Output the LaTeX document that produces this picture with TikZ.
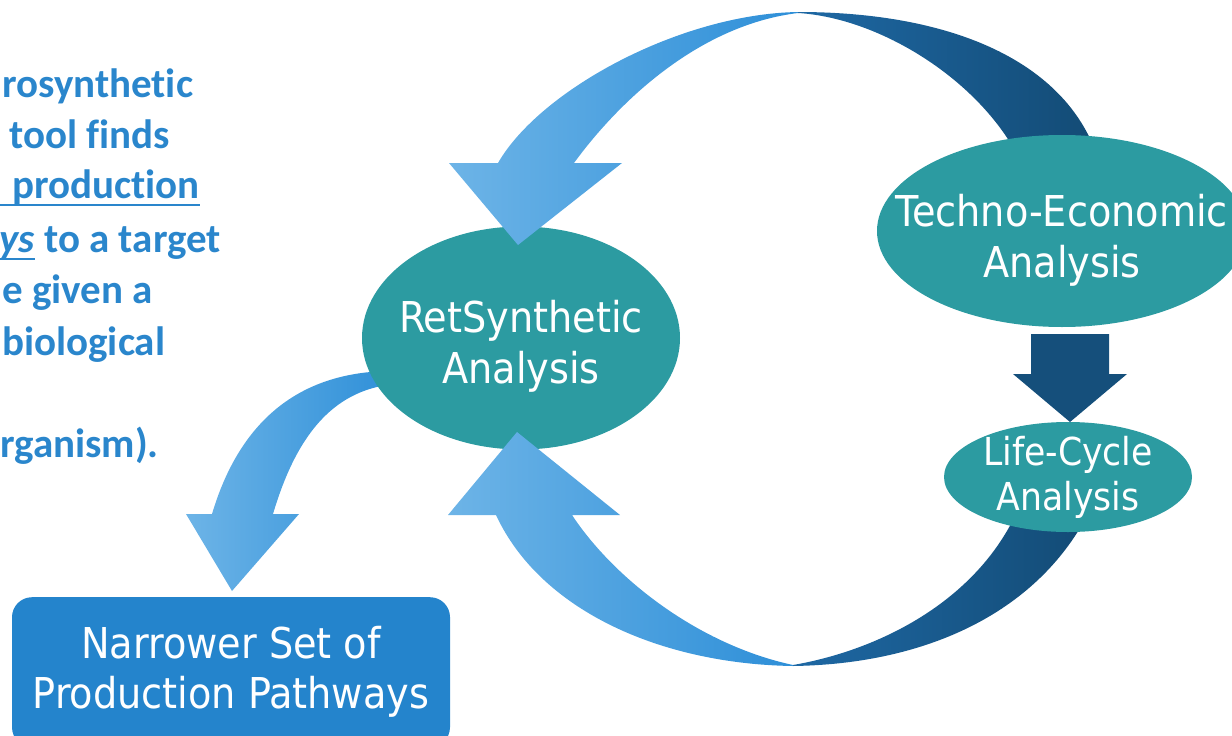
\documentclass[tikz,border=0pt]{standalone}
\usepackage{fontspec}
\usetikzlibrary{shapes.geometric}

\newfontfamily\stagefont{DejaVu Sans Condensed}
\newfontfamily\notefont[Ligatures=NoCommon]{Carlito}

\definecolor{stageteal}{HTML}{2C9BA1}
\definecolor{noteblue}{HTML}{2A86CC}
\definecolor{boxblue}{HTML}{2484CC}
\definecolor{lightarc}{HTML}{6DB4E7}
\definecolor{midarc}{HTML}{2E8FD8}
\definecolor{darkarcA}{HTML}{1E68A4}
\definecolor{darkarcB}{HTML}{134B75}
\definecolor{downblue}{HTML}{154F7B}

\tikzset{
  stage/.style={ellipse, fill=stageteal, inner sep=0pt},
  stagetext/.style={text=white, inner sep=0pt, align=center,
    font=\stagefont\fontsize{42.5}{51}\selectfont},
  result/.style={rectangle, rounded corners=20pt, fill=boxblue, text=white, align=center,
    inner sep=0pt, font=\stagefont\fontsize{42.5}{50}\selectfont},
  note/.style={text=noteblue, inner sep=0pt, anchor=base west,
    font=\notefont\bfseries\fontsize{41}{51}\selectfont},
  underl/.style={draw=noteblue, line width=2.2pt},
  lightarrow/.style={left color=lightarc, right color=midarc},
  darkarrow/.style={left color=darkarcA, right color=darkarcB},
}

\begin{document}
\begin{tikzpicture}[x=1pt, y=-1pt]
  \useasboundingbox (0,0) rectangle (1232,736);
  \clip (0,0) rectangle (1232,736);

  % Side note (runs off the left edge)
  \node[note] (l1) at (2,97) {rosynthetic};
  \node[note] (l2) at (9,148) {tool finds};
  \node[note] (l3) at (12,198) {production};
  \draw[underl] (0,205) -- ([yshift=-7pt]l3.base east);
  \node[note] (l4) at (-1,252) {\itshape ys};
  \node[note] (l4b) at (l4.base east) {\ to a target};
  \draw[underl] (0,259) -- ([yshift=-7pt]l4.base east);
  \node[note] (l5) at (2,303) {e given a};
  \node[note] (l6) at (2,355) {biological};
  \node[note] (l7) at (0,457) {rganism).};

  % Arrow from RetSynthetic down to the result box
  \shade[lightarrow] (212,514) .. controls (240,420) and (300,372) .. (390,371)
    -- (395,384) .. controls (330,390) and (295,440) .. (273,514)
    -- (299,514) -- (232,591) -- (186,514) -- cycle;

  % Result box
  \node[result, minimum width=438, minimum height=150, anchor=north] (narrow) at (231,597)
    {Narrower Set of\\Production Pathways};

  % Retrosynthesis stage
  \node[stage, minimum width=318, minimum height=223] (ret) at (521,338) {};
  \node[stagetext] (retlabel) at ([yshift=-8pt]ret.center) {RetSynthetic\\Analysis};

  % Upper loop arrow: TEA back to RetSynthetic
  \shade[darkarrow] (798,12) .. controls (950,12) and (1060,60) .. (1095,150)
    -- (1020,160) .. controls (980,80) and (880,18) .. (798,13) -- cycle;
  \shade[lightarrow] (498,163) .. controls (540,90) and (680,14) .. (798,12)
    -- (798,13) .. controls (700,25) and (620,100) .. (574,163)
    -- (622,163) -- (518,245) -- (449,163) -- cycle;

  % Lower loop arrow: LCA back to RetSynthetic
  \shade[darkarrow] (793,666) .. controls (930,664) and (1040,610) .. (1090,510)
    -- (1020,505) .. controls (980,600) and (880,650) .. (793,665) -- cycle;
  \shade[lightarrow] (496,515) .. controls (540,610) and (660,664) .. (793,666)
    -- (793,665) .. controls (700,645) and (615,580) .. (572,515)
    -- (620,515) -- (517,432) -- (448,515) -- cycle;

  % Techno-economic and life-cycle stages
  \node[stage, minimum width=370, minimum height=192] (tea) at (1062,231) {};
  \node[stagetext] (tealabel) at ([yshift=-9pt]tea.center) {Techno-Economic\\Analysis};
  \node[stage, minimum width=248, minimum height=110] (lca) at (1068,477) {};
  \node[stagetext, font=\stagefont\fontsize{38.5}{45}\selectfont] (lcalabel) at (lca.center)
    {Life-Cycle\\Analysis};

  % TEA feeds LCA
  \fill[downblue] (1031,334) -- (1109,334) -- (1109,374) -- (1127,374)
    -- (1070,422) -- (1013,374) -- (1031,374) -- cycle;
\end{tikzpicture}
\end{document}
